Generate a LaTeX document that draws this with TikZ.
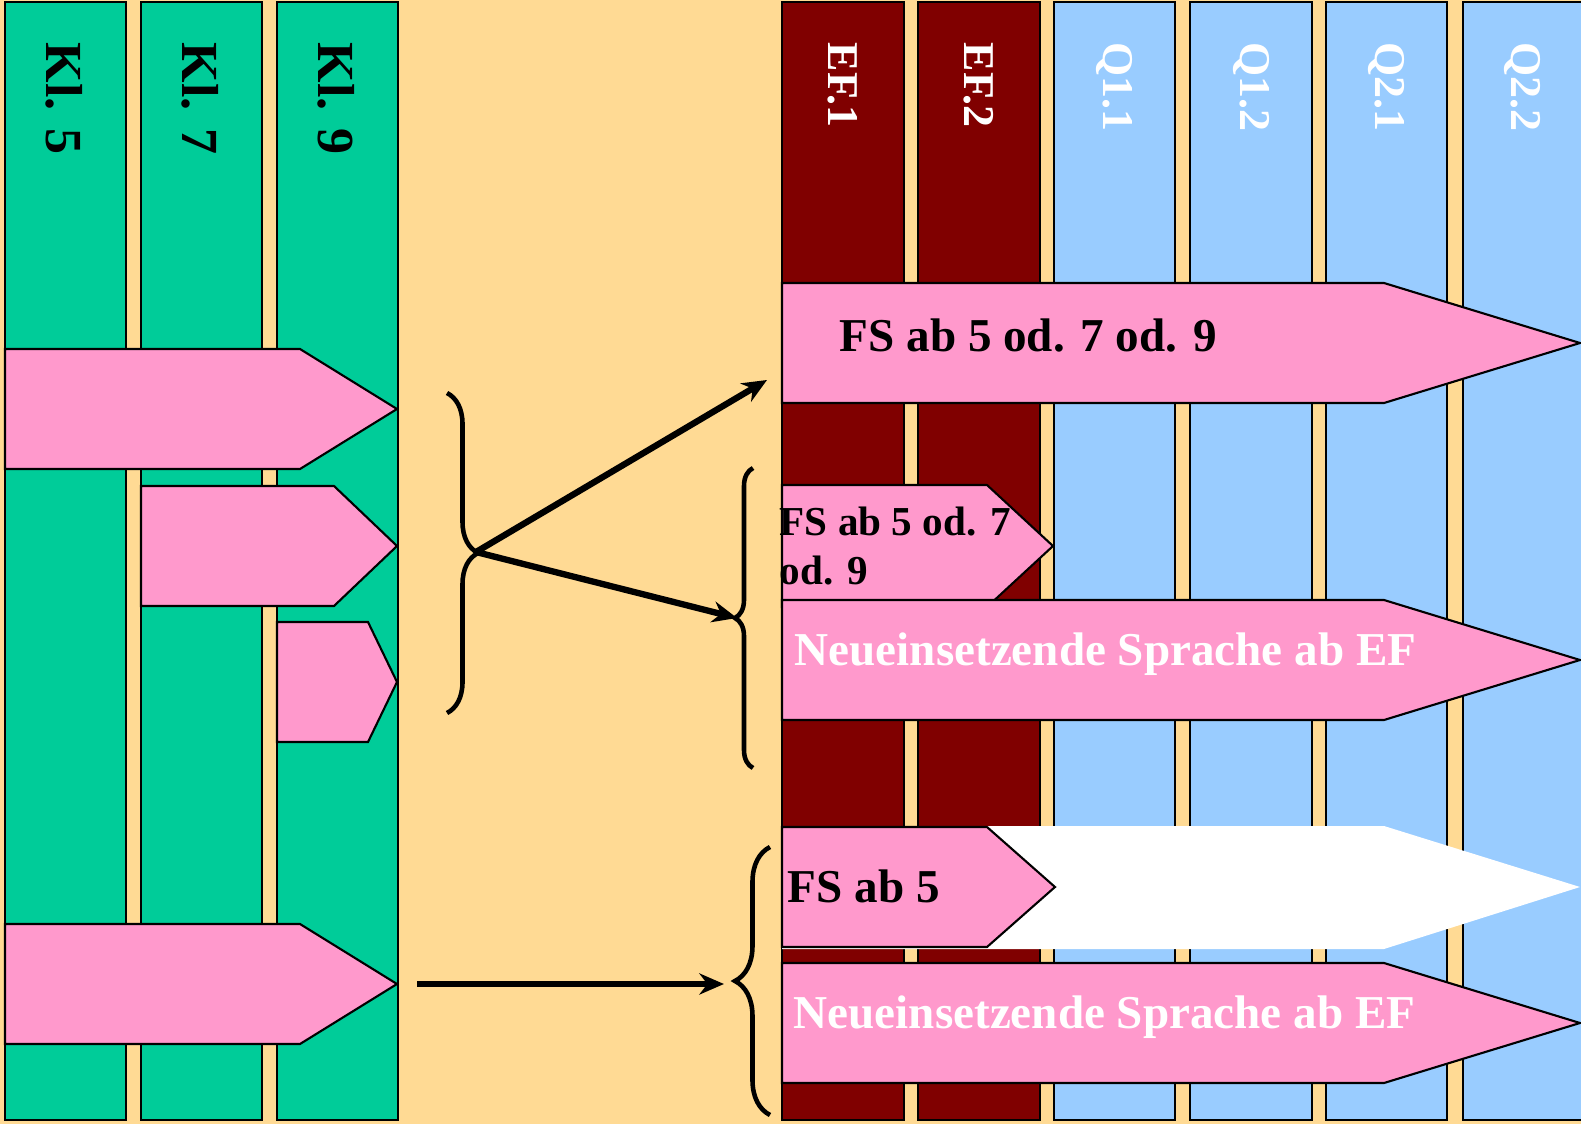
\documentclass[tikz,border=0pt]{standalone}
\usepackage{fontspec}
\setmainfont{Liberation Serif}
\usetikzlibrary{decorations.pathreplacing}
\usetikzlibrary{arrows.meta}

\definecolor{hintergrund}{RGB}{255,218,148}
\definecolor{gruen}{RGB}{0,204,153}
\definecolor{dunkelrot}{RGB}{128,0,0}
\definecolor{hellblau}{RGB}{153,204,255}
\definecolor{rosa}{RGB}{255,153,204}

\tikzset{
  spalte/.style={draw=black, line width=0.6pt},
  pfeilform/.style={draw=black, fill=rosa, line width=0.6pt},
  klammer/.style={decorate, line width=1.3pt, decoration={brace, aspect=0.5}},
  verbindung/.style={line width=1.8pt, -{Stealth[length=7pt,width=6pt]}},
  titel/.style={rotate=-90, anchor=west, inner sep=0pt},
  schrift/.style={anchor=base west, inner sep=0pt, font=\bfseries\fontsize{13.4pt}{16pt}\selectfont},
}

\begin{document}
\begin{tikzpicture}[x=0.01cm, y=-0.01cm]
	\useasboundingbox (0,0) rectangle (1581,1124);
	\fill[hintergrund] (0,0) rectangle (1581,1124);
	% Sek I
	\draw[spalte, fill=gruen] (5,2) rectangle (126,1120);
	\draw[spalte, fill=gruen] (141,2) rectangle (262,1120);
	\draw[spalte, fill=gruen] (277,2) rectangle (398,1120);
	\node[titel, font=\bfseries\fontsize{14.8pt}{17pt}\selectfont] (kl5) at (64,42){Kl. 5};
	\node[titel, font=\bfseries\fontsize{14.8pt}{17pt}\selectfont] (kl7) at (200,42){Kl. 7};
	\node[titel, font=\bfseries\fontsize{14.8pt}{17pt}\selectfont] (kl9) at (336,42){Kl. 9};
	% Sek II
	\draw[spalte, fill=dunkelrot] (782,2) rectangle (904,1120);
	\draw[spalte, fill=dunkelrot] (918,2) rectangle (1040,1120);
	\draw[spalte, fill=hellblau] (1054,2) rectangle (1175,1120);
	\draw[spalte, fill=hellblau] (1190,2) rectangle (1312,1120);
	\draw[spalte, fill=hellblau] (1326,2) rectangle (1447,1120);
	\draw[spalte, fill=hellblau] (1463,2) rectangle (1590,1120);
	\node[titel, white, font=\bfseries\fontsize{12.5pt}{15pt}\selectfont] (ef1) at (843,42){EF.1};
	\node[titel, white, font=\bfseries\fontsize{12.5pt}{15pt}\selectfont] (ef2) at (979,42){EF.2};
	\node[titel, white, font=\bfseries\fontsize{12.5pt}{15pt}\selectfont] (q11) at (1114,42){Q1.1};
	\node[titel, white, font=\bfseries\fontsize{12.5pt}{15pt}\selectfont] (q12) at (1251,42){Q1.2};
	\node[titel, white, font=\bfseries\fontsize{12.5pt}{15pt}\selectfont] (q21) at (1386,42){Q2.1};
	\node[titel, white, font=\bfseries\fontsize{12.5pt}{15pt}\selectfont] (q22) at (1522,42){Q2.2};
	% Pfeile links
	\draw[pfeilform] (5,349) -- (300,349) -- (397,409) -- (300,469) -- (5,469) -- cycle;
	\draw[pfeilform] (141,486) -- (334,486) -- (397,546) -- (334,606) -- (141,606) -- cycle;
	\draw[pfeilform] (277,622) -- (368,622) -- (397,682) -- (368,742) -- (277,742) -- cycle;
	\draw[pfeilform] (5,924) -- (300,924) -- (397,984) -- (300,1044) -- (5,1044) -- cycle;
	% Pfeile rechts
	\draw[pfeilform] (782,283) -- (1384,283) -- (1580,343) -- (1384,403) -- (782,403) -- cycle;
	\draw[pfeilform] (782,485) -- (987,485) -- (1053,546) -- (987,607) -- (782,607) -- cycle;
	\draw[pfeilform] (782,600) -- (1384,600) -- (1580,660) -- (1384,720) -- (782,720) -- cycle;
	\fill[white] (782,826) -- (1384,826) -- (1580,887) -- (1384,949) -- (782,949) -- cycle;
	\draw[pfeilform] (782,827) -- (987,827) -- (1055,887) -- (987,947) -- (782,947) -- cycle;
	\draw[pfeilform] (782,963) -- (1384,963) -- (1580,1023) -- (1384,1083) -- (782,1083) -- cycle;
	\node[schrift] (fsa) at (839,351){FS ab 5 od. 7 od. 9};
	\node[schrift, align=left, font=\bfseries\fontsize{11.7pt}{13.7pt}\selectfont] (fsb) at (779,584){FS ab 5 od. 7\\od. 9};
	\node[schrift, white] (neua) at (794,665){Neueinsetzende Sprache ab EF};
	\node[schrift] (fsc) at (787,902){FS ab 5};
	\node[schrift, white] (neub) at (793,1028){Neueinsetzende Sprache ab EF};
	% Klammern
	\draw[klammer, decoration={amplitude=0.31cm}] (447,393) -- (447,713);
	\draw[klammer, decoration={amplitude=0.18cm}] (753,768) -- (753,468);
	\draw[klammer, decoration={amplitude=0.35cm}] (770,1115) -- (770,847);
	\coordinate (spitzea) at (476,552);
	\coordinate (spitzeb) at (737,618);
	\coordinate (ziel) at (767,380);
	\coordinate (start) at (417,984);
	\coordinate (ende) at (724,984);
	\draw[verbindung] (spitzea) -- (ziel);
	\draw[verbindung] (spitzea) -- (spitzeb);
	\draw[verbindung] (start) -- (ende);
\end{tikzpicture}
\end{document}
